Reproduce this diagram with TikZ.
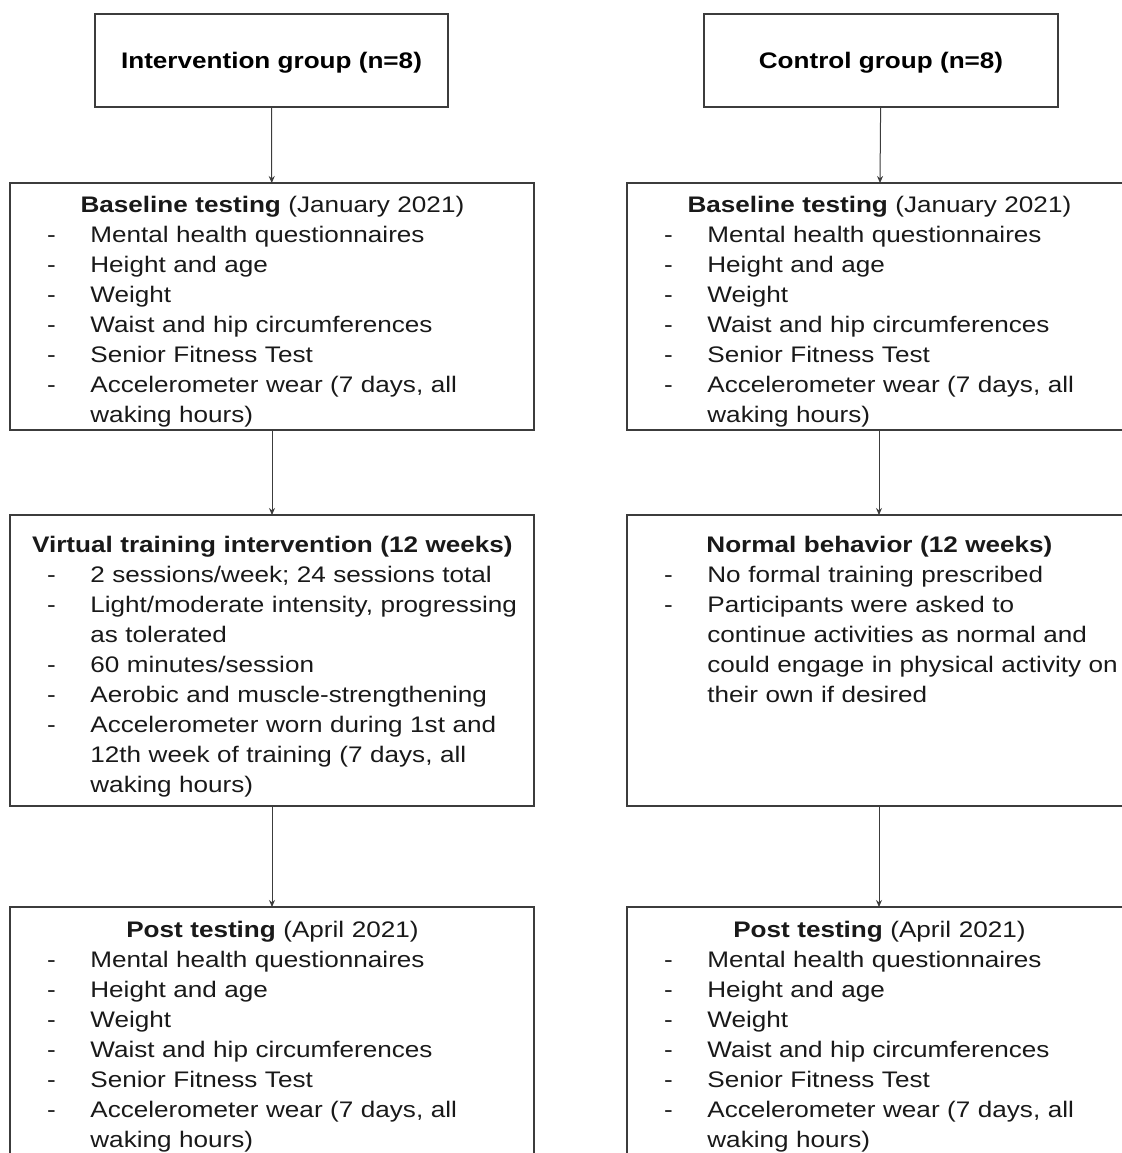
\documentclass[tikz,border=0pt]{standalone}
\usepackage{fontspec}
\setmainfont{Liberation Sans}[FakeStretch=1.16]
\usetikzlibrary{arrows.meta}

\definecolor{boxline}{HTML}{3C3C3C}
\newcommand{\ttl}[1]{{\centering\mbox{#1}\par}}
\newcommand{\itm}[1]{\par\noindent\rlap{\hspace{20.5pt}\makebox[0pt]{-}}\hspace*{40pt}\mbox{#1}\par}
\newcommand{\cnt}[1]{\par\noindent\hspace*{40pt}\mbox{#1}\par}

\tikzset{
  stage/.style={draw=boxline, line width=0.65pt, anchor=north west, inner sep=0pt, outer sep=0pt, text depth=0pt},
  lines/.style={anchor=base west, inner sep=0pt, align=left, text=black!90},
}

\begin{document}
\begin{tikzpicture}[x=0.5pt, y=-0.5pt, >={Stealth[length=3.5pt,width=3pt]},
  font=\fontsize{11.25pt}{15pt}\selectfont]
  \useasboundingbox (0,0) rectangle (1122,1153);
  \clip (0,0) rectangle (1122,1153);

  % intervention side
  \node[stage, minimum width=176.5pt, minimum height=46.5pt] (grp1) at (95,14) {\textbf{Intervention group (n=8)}};
  \node[stage, minimum width=262pt, minimum height=123.5pt] (base1) at (10,183) {};
  \node[stage, minimum width=262pt, minimum height=145.5pt] (trn1) at (10,515) {};
  \node[stage, minimum width=262pt, minimum height=150pt] (post1) at (10,907) {};

  \node[lines, text width=262pt] (base1t) at (10,212) {\ttl{\textbf{Baseline testing} (January 2021)}
    \itm{Mental health questionnaires}\itm{Height and age}\itm{Weight}
    \itm{Waist and hip circumferences}\itm{Senior Fitness Test}
    \itm{Accelerometer wear (7 days, all}\cnt{waking hours)}};
  \node[lines, text width=262pt] (trn1t) at (10,552) {\ttl{\textbf{Virtual training intervention (12 weeks)}}
    \itm{2 sessions/week; 24 sessions total}
    \itm{Light/moderate intensity, progressing}\cnt{as tolerated}
    \itm{60 minutes/session}\itm{Aerobic and muscle-strengthening}
    \itm{Accelerometer worn during 1st and}\cnt{12th week of training (7 days, all}\cnt{waking hours)}};
  \node[lines, text width=262pt] (post1t) at (10,937) {\ttl{\textbf{Post testing} (April 2021)}
    \itm{Mental health questionnaires}\itm{Height and age}\itm{Weight}
    \itm{Waist and hip circumferences}\itm{Senior Fitness Test}
    \itm{Accelerometer wear (7 days, all}\cnt{waking hours)}};

  % control side
  \node[stage, minimum width=177pt, minimum height=46.5pt] (grp2) at (704,14) {\textbf{Control group (n=8)}};
  \node[stage, minimum width=252pt, minimum height=123.5pt] (base2) at (627,183) {};
  \node[stage, minimum width=252pt, minimum height=145.5pt] (trn2) at (627,515) {};
  \node[stage, minimum width=252pt, minimum height=150pt] (post2) at (627,907) {};

  \node[lines, text width=252pt] (base2t) at (627,212) {\ttl{\textbf{Baseline testing} (January 2021)}
    \itm{Mental health questionnaires}\itm{Height and age}\itm{Weight}
    \itm{Waist and hip circumferences}\itm{Senior Fitness Test}
    \itm{Accelerometer wear (7 days, all}\cnt{waking hours)}};
  \node[lines, text width=252pt] (trn2t) at (627,552) {\ttl{\textbf{Normal behavior (12 weeks)}}
    \itm{No formal training prescribed}
    \itm{Participants were asked to}\cnt{continue activities as normal and}
    \cnt{could engage in physical activity on}\cnt{their own if desired}};
  \node[lines, text width=252pt] (post2t) at (627,937) {\ttl{\textbf{Post testing} (April 2021)}
    \itm{Mental health questionnaires}\itm{Height and age}\itm{Weight}
    \itm{Waist and hip circumferences}\itm{Senior Fitness Test}
    \itm{Accelerometer wear (7 days, all}\cnt{waking hours)}};

  \draw[->, line width=0.5pt, boxline] (grp1) -- (base1);
  \draw[->, line width=0.5pt, boxline] (base1) -- (trn1);
  \draw[->, line width=0.5pt, boxline] (trn1) -- (post1);
  \draw[->, line width=0.5pt, boxline] (grp2) -- (base2);
  \draw[->, line width=0.5pt, boxline] (base2) -- (trn2);
  \draw[->, line width=0.5pt, boxline] (trn2) -- (post2);
\end{tikzpicture}
\end{document}
